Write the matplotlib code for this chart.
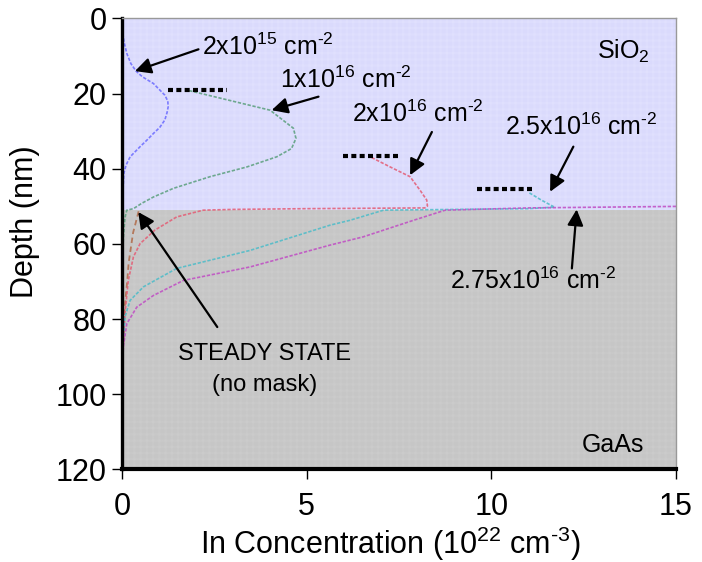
import matplotlib as mpl
mpl.use('Agg')
import matplotlib.pyplot as plt

plt.rcParams['font.family'] = ['Liberation Sans', 'DejaVu Sans']
plt.rcParams['mathtext.fontset'] = 'custom'
plt.rcParams['mathtext.rm'] = 'Liberation Sans'
plt.rcParams['mathtext.it'] = 'Liberation Sans:italic'
plt.rcParams['mathtext.default'] = 'regular'
plt.rcParams['hatch.linewidth'] = 0.3

# layer boundary (nm)
INTERFACE = 51

# In concentration (1e22 cm^-3) vs depth (nm) for each implant dose
dose_2e15_depth = [0, 3.9, 6.5, 9.3, 12, 14, 15.5, 17.3, 19, 20.4, 22, 23.5, 25, 27,
                   29, 30.6, 32.5, 34.1, 36.8, 39, 41.2, 45, 51, 60, 90, 120]
dose_2e15_conc = [0, 0.02, 0.06, 0.13, 0.24, 0.38, 0.55, 0.85, 1.02, 1.16, 1.24, 1.25,
                  1.22, 1.16, 1.02, 0.85, 0.66, 0.49, 0.22, 0.11, 0.05, 0.03, 0.02,
                  0.01, 0.0, 0.0]

dose_1e16_depth = [19.2, 24.4, 29.2, 31.9, 34.6, 36.8, 39.5, 42.1, 45.2, 47.5, 49.2,
                   50.6, 51.0, 53, 58, 65, 70]
dose_1e16_conc = [1.82, 4.01, 4.64, 4.71, 4.59, 4.19, 3.38, 2.38, 1.39, 0.85, 0.53,
                  0.31, 0.13, 0.08, 0.04, 0.01, 0.0]

dose_2e16_depth = [37.0, 39.5, 42.1, 45.7, 48.3, 49.9, 50.4, 50.6, 50.8, 51.0, 52.8,
                   56.3, 59.9, 63.4, 69.7, 78.5, 88, 100]
dose_2e16_conc = [6.76, 7.26, 7.80, 8.07, 8.25, 8.27, 8.2, 5.0, 3.0, 2.20, 1.48, 0.89,
                  0.49, 0.31, 0.17, 0.08, 0.03, 0.0]

dose_25e16_depth = [46.4, 48.3, 50.2, 50.6, 51.0, 53.7, 55.0, 61.7, 66.5, 71.4, 75.0,
                    79.4, 86, 95]
dose_25e16_conc = [11.03, 11.35, 11.71, 11.0, 7.08, 6.17, 5.63, 3.47, 1.48, 0.58, 0.22,
                   0.08, 0.03, 0.0]

dose_275e16_depth = [50.0, 50.4, 51.0, 53.7, 58.1, 60.3, 66.1, 69.7, 73.7, 76.8, 81.2,
                     87, 95]
dose_275e16_conc = [15.0, 11.0, 8.75, 7.89, 6.53, 5.63, 3.47, 1.66, 0.85, 0.40, 0.13,
                    0.04, 0.0]

steady_depth = [51.3, 54, 57, 61, 65, 70, 76, 82, 90, 100]
steady_conc = [0.45, 0.38, 0.30, 0.24, 0.18, 0.14, 0.08, 0.04, 0.02, 0.0]

# original surface after sputtering: (x start, x end, depth)
surface_marks = [(1.25, 2.84, 18.9), (5.99, 7.53, 36.5), (9.60, 11.16, 45.4)]

HY = '\u2010'  # plain hyphen for the exponents, as in the original

fig = plt.figure(figsize=(7.02, 5.62), dpi=100)
ax = fig.add_axes([0.1738, 0.1646, 0.7892, 0.8025])

# layer backgrounds
ax.axhspan(0, INTERFACE, facecolor='#e8e8ff', edgecolor='#d8d8fc', hatch='+' * 14,
           lw=0, zorder=0)
ax.axhspan(INTERFACE, 120, facecolor='#d2d2d2', edgecolor='#c4c4c4', hatch='+' * 14,
           lw=0, zorder=0)

style = dict(lw=1.2, ls=(0, (2, 1)), alpha=0.85, zorder=2)
ax.plot(dose_2e15_conc, dose_2e15_depth, color='#6a6aff', **style)
ax.plot(dose_1e16_conc, dose_1e16_depth, color='#5a9f7c', **style)
ax.plot(steady_conc, steady_depth, color='#b06a48', lw=1.3, ls=(0, (3, 2)),
        alpha=0.85, zorder=2)
ax.plot(dose_2e16_conc, dose_2e16_depth, color='#e45c74', **style)
ax.plot(dose_25e16_conc, dose_25e16_depth, color='#4cbcc8', **style)
ax.plot(dose_275e16_conc, dose_275e16_depth, color='#c04cc4', **style)

for x0, x1, d in surface_marks:
    ax.plot([x0, x1], [d, d], color='k', lw=3, ls=(0, (1.2, 0.8)),
            solid_capstyle='butt', dash_capstyle='butt', zorder=3)

arrow = dict(arrowstyle='-|>', color='k', lw=1.6, mutation_scale=24,
             shrinkA=0, shrinkB=0)
fs = 18
ax.annotate('', xy=(0.35, 14.0), xytext=(2.07, 8.2), arrowprops=arrow)
ax.text(2.16, 7.5, r'2x10$^{15}$ cm$^{%s2}$' % HY, fontsize=fs, va='center')
ax.annotate('', xy=(4.05, 24.4), xytext=(5.32, 20.8), arrowprops=arrow)
ax.text(4.28, 16.4, r'1x10$^{16}$ cm$^{%s2}$' % HY, fontsize=fs, va='center')
ax.annotate('', xy=(7.80, 41.7), xytext=(8.39, 30.2), arrowprops=arrow)
ax.text(6.22, 25.3, r'2x10$^{16}$ cm$^{%s2}$' % HY, fontsize=fs, va='center')
ax.annotate('', xy=(11.59, 46.1), xytext=(12.22, 34.1), arrowprops=arrow)
ax.text(10.37, 28.8, r'2.5x10$^{16}$ cm$^{%s2}$' % HY, fontsize=fs, va='center')
ax.annotate('', xy=(12.31, 50.8), xytext=(12.18, 66.5), arrowprops=arrow)
ax.text(8.88, 69.9, r'2.75x10$^{16}$ cm$^{%s2}$' % HY, fontsize=fs, va='center')
ax.annotate('', xy=(0.44, 51.5), xytext=(2.58, 82.1), arrowprops=arrow)
ax.text(3.87, 89.2, 'STEADY STATE', fontsize=17, va='center', ha='center')
ax.text(3.87, 97.6, '(no mask)', fontsize=17, va='center', ha='center')

ax.text(12.85, 8.8, r'SiO$_2$', fontsize=fs, va='center')
ax.text(14.13, 113.4, 'GaAs', fontsize=fs, va='center', ha='right')

ax.set_xlim(0, 15)
ax.set_ylim(120, 0)
ax.set_xticks([0, 5, 10, 15])
ax.set_yticks(range(0, 121, 20))
ax.tick_params(labelsize=22, length=7, width=1, direction='out')
ax.tick_params(axis='x', pad=9)
ax.tick_params(axis='y', pad=4)
ax.set_xlabel(r'In Concentration (10$^{22}$ cm$^{%s3}$)' % HY, fontsize=22)
ax.set_ylabel('Depth (nm)', fontsize=22)
ax.xaxis.set_label_coords(0.484, -0.122)
ax.yaxis.set_label_coords(-0.148, 0.55)

for side in ('top', 'right'):
    ax.spines[side].set_color('#999999')
    ax.spines[side].set_linewidth(1)
ax.spines['left'].set_linewidth(2.4)
ax.spines['bottom'].set_linewidth(3)

fig.savefig('out.png', dpi=100)
plt.close(fig)
